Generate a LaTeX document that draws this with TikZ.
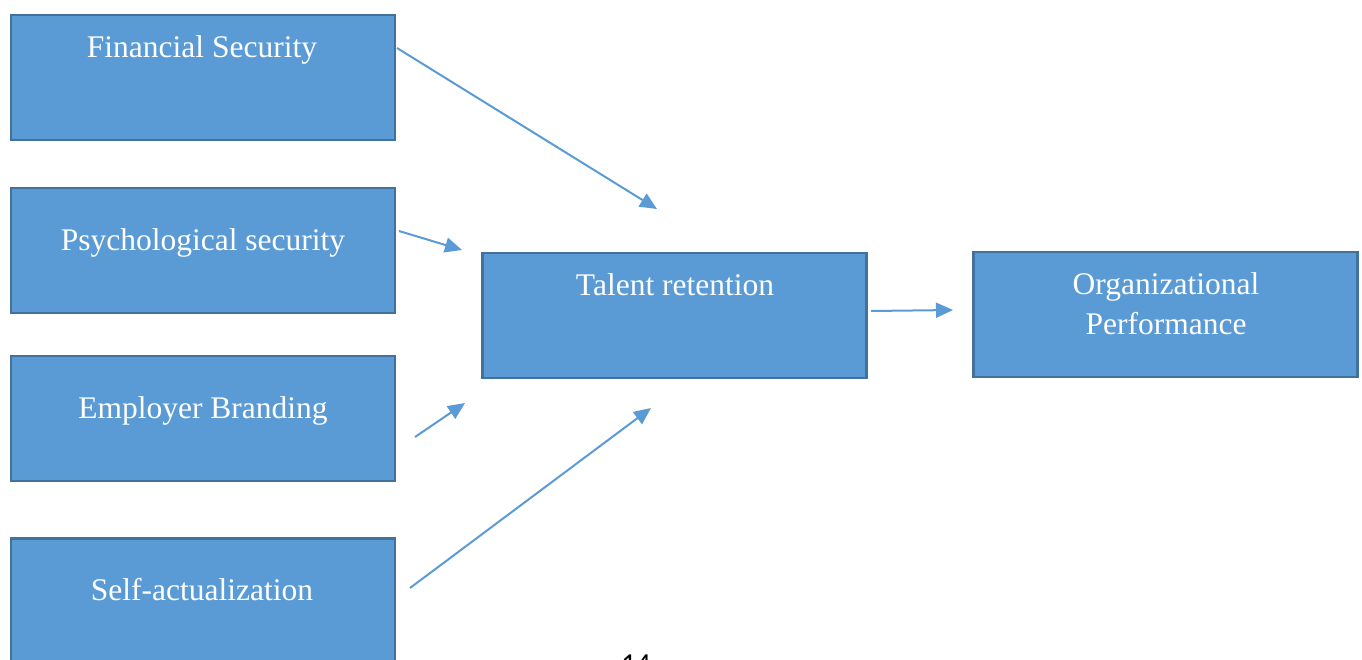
\documentclass[tikz,border=0pt]{standalone}
\usepackage{fontspec}
\setmainfont{Liberation Serif}
\newfontfamily\pagefont{Carlito}
\usetikzlibrary{arrows.meta}
\definecolor{boxfill}{HTML}{5B9BD5}
\definecolor{boxline}{HTML}{41719C}
\tikzset{
  box/.style={draw=boxline, line width=2.5pt, fill=boxfill, minimum width=384pt, minimum height=125pt, inner sep=0pt, outer sep=0pt},
  boxtext/.style={text=white, font=\fontsize{31.5}{40}\selectfont, inner sep=0pt, align=center, anchor=base},
  conn/.style={draw=boxfill, line width=2pt, -{Triangle[length=17pt,width=15pt]}}
}
\begin{document}
\begin{tikzpicture}[x=1pt,y=-1pt]
\useasboundingbox (0,0) rectangle (1362,659);
\clip (0,0) rectangle (1362,659);
% boxes (centres)
\node[box] (fin) at (203,77.5) {};
\node[box] (psy) at (203,250.5) {};
\node[box] (emp) at (203,418.5) {};
\node[box] (self) at (203,601) {};
\node[box] (tal) at (674.5,315.5) {};
\node[box] (org) at (1165.5,314.5) {};
% texts (baselines)
\node[boxtext] (tfin) at (202,57) {Financial Security};
\node[boxtext] (tpsy) at (203,250) {Psychological security};
\node[boxtext] (temp) at (203,418) {Employer Branding};
\node[boxtext] (tself) at (202,600) {Self-actualization};
\node[boxtext] (ttal) at (675,295) {Talent retention};
\node[boxtext] (torg1) at (1166,294) {Organizational};
\node[boxtext] (torg2) at (1166,334) {Performance};
% connector end points
\coordinate (a1s) at (397,48);   \coordinate (a1e) at (657,209);
\coordinate (a2s) at (399,231);  \coordinate (a2e) at (462,250);
\coordinate (a3s) at (415,437);  \coordinate (a3e) at (465,403);
\coordinate (a4s) at (410,588);  \coordinate (a4e) at (651,408);
\coordinate (a5s) at (871,311);  \coordinate (a5e) at (953,310);
\draw[conn] (a1s) -- (a1e);
\draw[conn] (a2s) -- (a2e);
\draw[conn] (a3s) -- (a3e);
\draw[conn] (a4s) -- (a4e);
\draw[conn] (a5s) -- (a5e);
% page number
\node[font=\pagefont\fontsize{29}{34}\selectfont, inner sep=0pt, anchor=base] (pg) at (636,673) {14};
\end{tikzpicture}
\end{document}
